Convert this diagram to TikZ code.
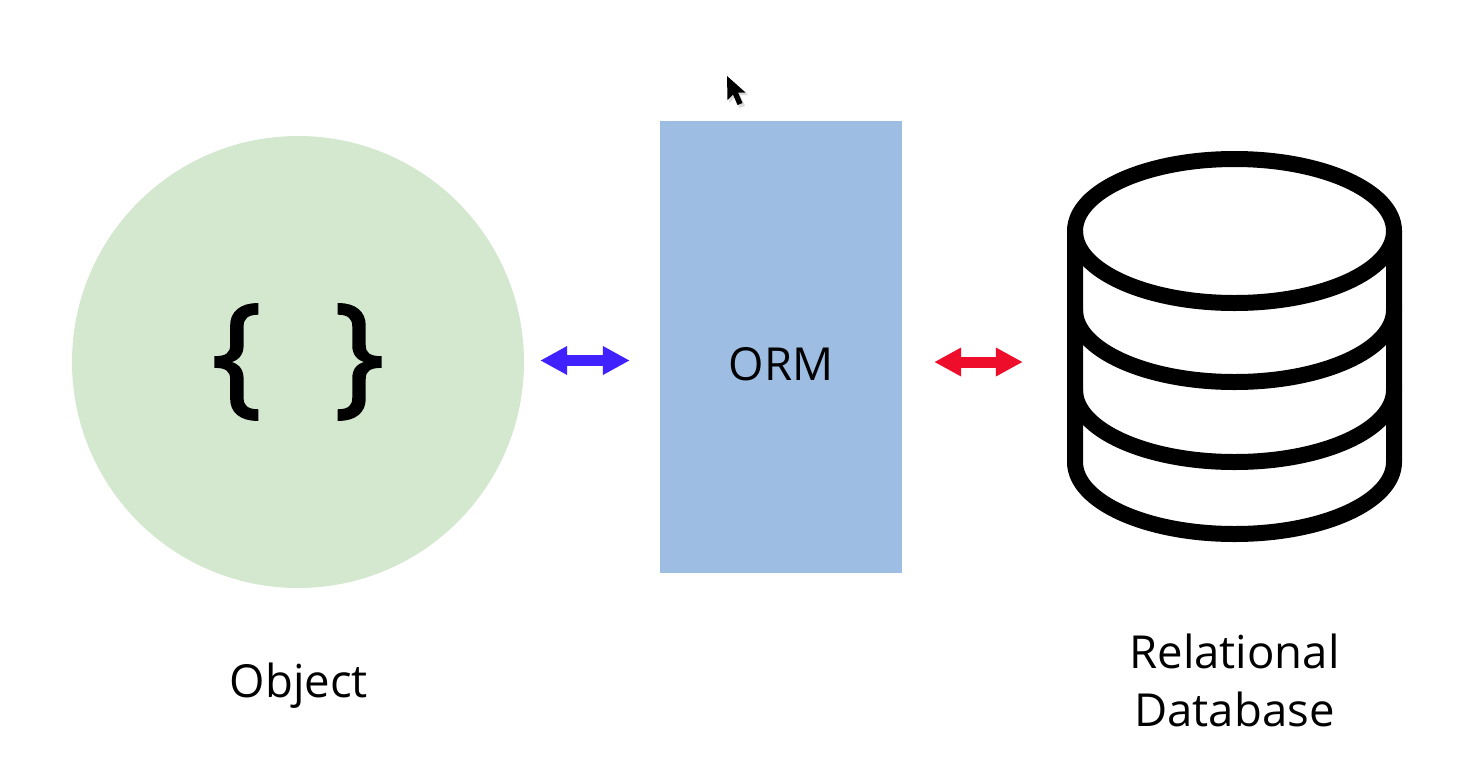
\documentclass[tikz,border=0pt]{standalone}
\usepackage{fontspec}
\setmainfont{Open Sans}
\newfontfamily\bracefont[FakeBold=2]{Open Sans}
\usepackage{xcolor}
\usetikzlibrary{arrows.meta,positioning,calc}
\definecolor{objgreen}{HTML}{D4E8CF}
\definecolor{ormblue}{HTML}{9DBDE3}
\definecolor{arrblue}{HTML}{3F22FF}
\definecolor{arrred}{HTML}{EE0D2A}
\begin{document}
\begin{tikzpicture}[x=1pt, y=-1pt,
  obj/.style={circle, fill=objgreen, inner sep=0pt, minimum size=452pt},
  ormbox/.style={rectangle, fill=ormblue, inner sep=0pt, minimum width=242pt, minimum height=452pt},
  dbbox/.style={rectangle, inner sep=0pt, minimum width=335pt, minimum height=391pt},
  lbl/.style={font=\fontsize{45.5}{58}\selectfont, align=center, text=black, inner sep=0pt},
  dbline/.style={draw=black, line width=16pt, line join=round},
  arr/.style={{Triangle[length=27pt,width=27pt]}-{Triangle[length=27pt,width=27pt]}, line width=11pt}]
\useasboundingbox (0,0) rectangle (1474,782);
\node[obj] (object) at (298,362) {};
\node[ormbox] (orm) at (781,347) {};
\node[dbbox] (db) at (1234.5,347) {};
\node[lbl, font=\bracefont\fontsize{132}{132}\selectfont] (braces) at (298,362) {\{\hspace{0.55em}\}};
\node[lbl] (ormlabel) at (781,364) {ORM};
\node[lbl] (objectlabel) at (299,686) {Object};
\node[lbl] (dblabel) at (1234.5,680) {Relational\\Database};
% the database icon
\draw[dbline] (1234.5,231) ellipse [x radius=159.5pt, y radius=72pt];
\draw[dbline] (1394,231) -- (1394,462) arc [start angle=0, end angle=-180, x radius=159.5pt, y radius=72pt] -- (1075,231);
\foreach \yy in {310,390}
  \draw[dbline] (1075,\yy) arc [start angle=180, end angle=360, x radius=159.5pt, y radius=72pt];
% the two arrows
\draw[arr, draw=arrblue, fill=arrblue, shorten <=16pt, shorten >=30pt]
  ([yshift=1.5pt]object.east) -- ([yshift=-13.5pt]orm.west);
\draw[arr, draw=arrred, fill=arrred, shorten <=32pt, shorten >=44pt]
  ([yshift=-15pt]orm.east) -- ([yshift=-15pt]db.west);
% the mouse pointer
\fill[black!14] (729,78) -- (729.5,103) -- (735,97) -- (739.5,108) -- (745,106) -- (740,95) -- (748,95) -- cycle;
\fill[black] (727,76) -- (727.5,100) -- (733,94.5) -- (737.5,105) -- (742.5,103) -- (738,92.5) -- (745.5,92.5) -- cycle;
\end{tikzpicture}
\end{document}
